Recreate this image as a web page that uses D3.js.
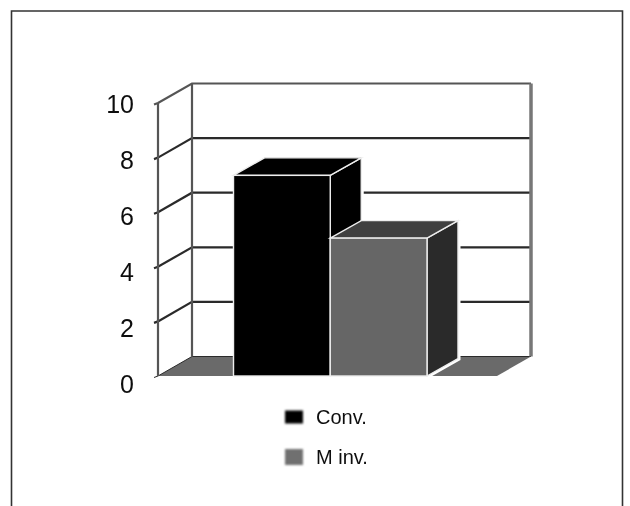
<!DOCTYPE html>
<html>
<head>
<meta charset="utf-8">
<script src="https://cdn.jsdelivr.net/npm/d3@7"></script>
<style>
  html, body { margin: 0; padding: 0; background: #fff; }
  svg { display: block; }
  text { font-family: "Liberation Sans", Arial, sans-serif; fill: #111; }
</style>
</head>
<body>
<svg id="chart"></svg>
<script>
const categories = ["Conv.", "M inv."];
const values = [7.35, 5.05];
const tickValues = [0, 2, 4, 6, 8, 10];

const frontColors = ["#000000", "#666666"];
const topColors = ["#000000", "#3f3f3f"];
const sideColors = ["#000000", "#2c2c2c"];

const width = 630, height = 506;
const svg = d3.select("#chart").attr("width", width).attr("height", height);

// soft edges, the reference is a scan
const defs = svg.append("defs");
defs.append("filter").attr("id", "soft").append("feGaussianBlur").attr("stdDeviation", 0.6);
defs.append("filter").attr("id", "softText").append("feGaussianBlur").attr("stdDeviation", 0.35);
defs.append("filter").attr("id", "softKey").attr("x", "-30%").attr("y", "-30%")
    .attr("width", "160%").attr("height", "160%")
    .append("feGaussianBlur").attr("stdDeviation", 1);

// page frame, open at the bottom
svg.append("path")
    .attr("d", d3.line()([[11.5, height], [11.5, 11], [622.5, 11], [622.5, height]]))
    .attr("fill", "none").attr("stroke", "#333").attr("stroke-width", 1.6);

const x = d3.scaleBand().domain(categories).range([233.5, 427]);
const y = d3.scaleLinear().domain([0, 10]).range([376, 103]);
// the printed labels drift a little from the gridlines in the reference
const yLabel = d3.scaleLinear().domain([0, 10]).range([384, 104]);

// depth of the wall and of the bars
const wallLeft = 158, wallDx = 34, wallDy = -19.5;
const barDx = 31, barDy = -17.5;
const wallRight = 531;

const plot = svg.append("g").attr("filter", "url(#soft)");
const line = d3.line();

// floor
plot.append("path")
    .attr("d", line([
        [wallLeft, y(0)],
        [wallLeft + wallDx, y(0) + wallDy],
        [wallRight, y(0) + wallDy],
        [wallRight - wallDx, y(0)]
    ]) + "Z")
    .attr("fill", "#6a6a6a");

// gridlines on side and back wall
tickValues.forEach(t => {
    plot.append("path")
        .attr("d", line([
            [wallLeft - 4, y(t) + 1.5],
            [wallLeft, y(t)],
            [wallLeft + wallDx, y(t) + wallDy],
            [wallRight, y(t) + wallDy]
        ]))
        .attr("fill", "none")
        .attr("stroke", t === 10 ? "#555" : "#2a2a2a")
        .attr("stroke-width", t === 0 ? 1 : 2.2);
});

// wall verticals
plot.append("path")
    .attr("d", line([[wallLeft, y(0)], [wallLeft, y(10)]]))
    .attr("stroke", "#555").attr("stroke-width", 2.2);
plot.append("path")
    .attr("d", line([[wallLeft + wallDx, y(0) + wallDy], [wallLeft + wallDx, y(10) + wallDy]]))
    .attr("stroke", "#555").attr("stroke-width", 2.2);
plot.append("path")
    .attr("d", line([[wallRight, y(0) + wallDy], [wallRight, y(10) + wallDy]]))
    .attr("stroke", "#777").attr("stroke-width", 3.5);

// bars, first one behind the second
const bars = plot.selectAll(".bar")
    .data(categories.map((c, i) => ({ c, i, v: values[i] })))
    .join("g").attr("class", "bar");

const sidePath = d => {
    const r = x(d.c) + x.bandwidth();
    return line([[r, y(0)], [r + barDx, y(0) + barDy], [r + barDx, y(d.v) + barDy], [r, y(d.v)]]) + "Z";
};

bars.append("path") // white gap around the bar, gridlines stop short of it
    .attr("d", sidePath)
    .attr("fill", "#fff").attr("stroke", "#fff").attr("stroke-width", 5);

bars.append("path") // side
    .attr("d", sidePath)
    .attr("fill", d => sideColors[d.i])
    .attr("stroke", "#eee").attr("stroke-width", 1.4);

bars.append("path") // top
    .attr("d", d => {
        const l = x(d.c), r = l + x.bandwidth();
        return line([[l, y(d.v)], [l + barDx, y(d.v) + barDy], [r + barDx, y(d.v) + barDy], [r, y(d.v)]]) + "Z";
    })
    .attr("fill", d => topColors[d.i])
    .attr("stroke", "#eee").attr("stroke-width", 1.4);

bars.append("rect") // front
    .attr("x", d => x(d.c))
    .attr("y", d => y(d.v))
    .attr("width", x.bandwidth())
    .attr("height", d => y(0) - y(d.v))
    .attr("fill", d => frontColors[d.i])
    .attr("stroke", "#eee").attr("stroke-width", 1.4);

// y axis labels
const gY = svg.append("g").attr("transform", "translate(134,0)")
    .attr("filter", "url(#softText)")
    .call(d3.axisLeft(yLabel).tickValues(tickValues).tickSize(0).tickPadding(0));
gY.select(".domain").remove();
gY.selectAll("text").style("font-size", "25px");

// legend
const legendY = d3.scalePoint().domain(categories).range([417, 457]);
const legend = svg.selectAll(".legend").data(categories).join("g")
    .attr("class", "legend")
    .attr("transform", d => `translate(285,${legendY(d)})`);
legend.append("rect")
    .attr("y", (d, i) => i === 0 ? -6.5 : -8)
    .attr("width", 18)
    .attr("height", (d, i) => i === 0 ? 13 : 16)
    .attr("fill", (d, i) => i === 0 ? "#000" : "#707070")
    .attr("filter", "url(#softKey)");
legend.append("text")
    .attr("x", 31).attr("dy", "0.35em")
    .attr("filter", "url(#softText)")
    .style("font-size", "20px")
    .text(d => d);
</script>
</body>
</html>
